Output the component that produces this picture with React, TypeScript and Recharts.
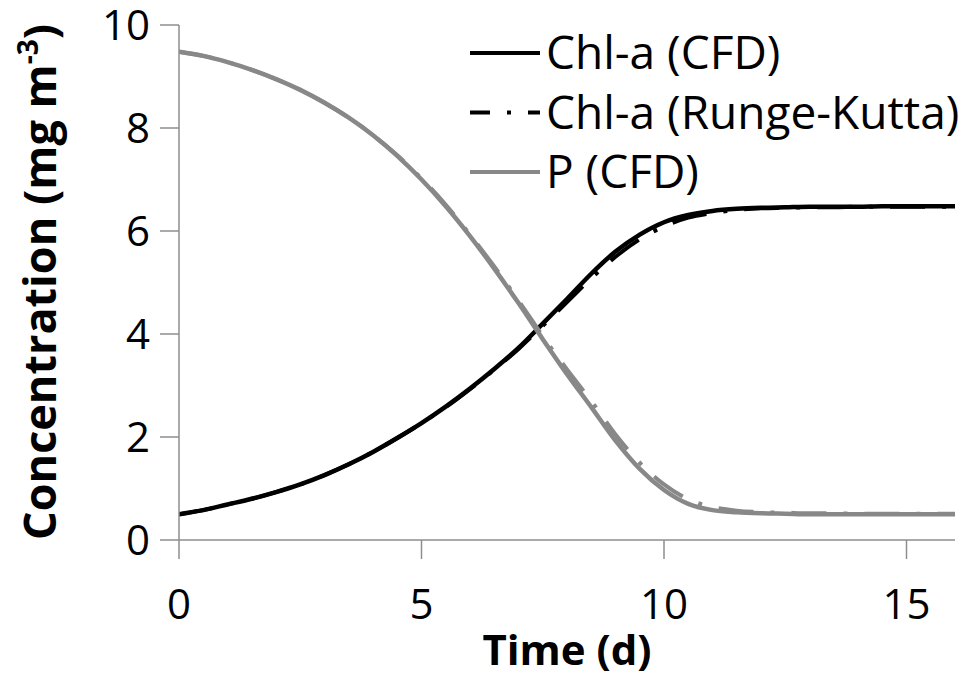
import { LineChart, Line, XAxis, YAxis } from 'recharts';

// time (d)
const times = [
  0, 0.5, 1, 1.5, 2, 2.5, 3, 3.5, 4, 4.5, 5, 5.5, 6, 6.5, 7, 7.5, 8,
  8.5, 9, 9.5, 10, 10.5, 11, 11.5, 12, 12.5, 13, 13.5, 14, 14.5, 15, 15.5, 16,
];

// Chl-a, CFD model (mg m-3)
const chlCfd = [
  0.5, 0.58, 0.69, 0.8, 0.93, 1.08, 1.26, 1.47, 1.71, 1.98, 2.27, 2.59, 2.94, 3.32, 3.73, 4.2, 4.68,
  5.17, 5.6, 5.93, 6.17, 6.31, 6.39, 6.43, 6.45, 6.46, 6.47, 6.47, 6.47, 6.48, 6.48, 6.48, 6.48,
];

// Chl-a, Runge-Kutta
const chlRk = [
  0.5, 0.58, 0.69, 0.8, 0.93, 1.08, 1.26, 1.47, 1.71, 1.98, 2.27, 2.58, 2.93, 3.31, 3.71, 4.16, 4.62,
  5.08, 5.5, 5.84, 6.09, 6.26, 6.35, 6.41, 6.44, 6.45, 6.46, 6.46, 6.47, 6.47, 6.47, 6.47, 6.47,
];

// P, CFD model
const pCfd = [
  9.48, 9.4, 9.28, 9.13, 8.95, 8.74, 8.49, 8.2, 7.86, 7.46, 7.0, 6.48, 5.9, 5.27, 4.6, 3.9, 3.22,
  2.58, 1.93, 1.38, 0.97, 0.7, 0.58, 0.54, 0.52, 0.51, 0.5, 0.5, 0.5, 0.5, 0.5, 0.5, 0.5,
];

// P, Runge-Kutta (not in legend)
const pRk = [
  9.48, 9.4, 9.28, 9.13, 8.95, 8.74, 8.49, 8.2, 7.86, 7.47, 7.02, 6.51, 5.93, 5.31, 4.65, 3.96, 3.31,
  2.7, 2.05, 1.5, 1.08, 0.79, 0.64, 0.57, 0.54, 0.53, 0.52, 0.52, 0.51, 0.51, 0.51, 0.51, 0.51,
];

const xTicks = [0, 5, 10, 15];
const yTicks = [0, 2, 4, 6, 8, 10];

const legendItems = [
  { label: 'Chl-a (CFD)', color: '#000000', dash: undefined },
  { label: 'Chl-a (Runge-Kutta)', color: '#000000', dash: '20 17 4 17 16' },
  { label: 'P (CFD)', color: '#888888', dash: undefined },
];

const data = times.map((t, i) => ({
  t,
  chlCfd: chlCfd[i],
  chlRk: chlRk[i],
  pCfd: pCfd[i],
  pRk: pRk[i],
}));

const font = '"Open Sans", sans-serif';
const axisColor = '#8e8e8e';
const rkDash = '35 17 4 17';

export default function App() {
  return (
    <div style={{ position: 'absolute', left: 0, top: 0, width: 974, height: 680, background: '#fff' }}>
      <LineChart width={974} height={680} data={data} margin={{ top: 25, right: 19, bottom: 0, left: 0 }}>
        <XAxis
          type="number"
          dataKey="t"
          domain={[0, 16]}
          ticks={xTicks}
          allowDataOverflow
          height={140}
          stroke={axisColor}
          strokeWidth={1.5}
          tickSize={19}
          tickMargin={30}
          tick={{ fill: '#000', fontSize: 42, fontFamily: font }}
        />
        <YAxis
          type="number"
          domain={[0, 10]}
          ticks={yTicks}
          width={179}
          stroke={axisColor}
          strokeWidth={1.5}
          tickSize={19}
          tickMargin={10}
          tick={{ fill: '#000', fontSize: 42, fontFamily: font }}
        />
        <Line type="monotone" dataKey="chlCfd" stroke="#000" strokeWidth={4.5} dot={false} activeDot={false} isAnimationActive={false} />
        <Line type="monotone" dataKey="chlRk" stroke="#000" strokeWidth={4} strokeDasharray={rkDash} dot={false} activeDot={false} isAnimationActive={false} />
        <Line type="monotone" dataKey="pCfd" stroke="#888888" strokeWidth={4.5} dot={false} activeDot={false} isAnimationActive={false} />
        <Line type="monotone" dataKey="pRk" stroke="#888888" strokeWidth={4} strokeDasharray={rkDash} dot={false} activeDot={false} isAnimationActive={false} />
      </LineChart>

      {/* legend and axis titles */}
      <svg width={974} height={680} style={{ position: 'absolute', left: 0, top: 0, pointerEvents: 'none' }}>
        {legendItems.map((item, i) => {
          const y = 53 + i * 59.5;
          return (
            <g key={item.label}>
              <line x1={470} x2={540} y1={y} y2={y} stroke={item.color} strokeWidth={4} strokeDasharray={item.dash} />
              <text x={546} y={y} dy="0.35em" fontSize={46} fontFamily={font} fill="#000">
                {item.label}
              </text>
            </g>
          );
        })}
        <text x={567} y={665} textAnchor="middle" fontSize={42} fontWeight="bold" fontFamily={font} fill="#000">
          Time (d)
        </text>
        <text
          transform="translate(56, 282) rotate(-90)"
          textAnchor="middle"
          fontSize={45}
          fontWeight="bold"
          fontFamily={font}
          fill="#000"
        >
          Concentration (mg m
          <tspan fontSize={28} dy={-18}>-3</tspan>
          <tspan dy={18}>)</tspan>
        </text>
      </svg>
    </div>
  );
}
